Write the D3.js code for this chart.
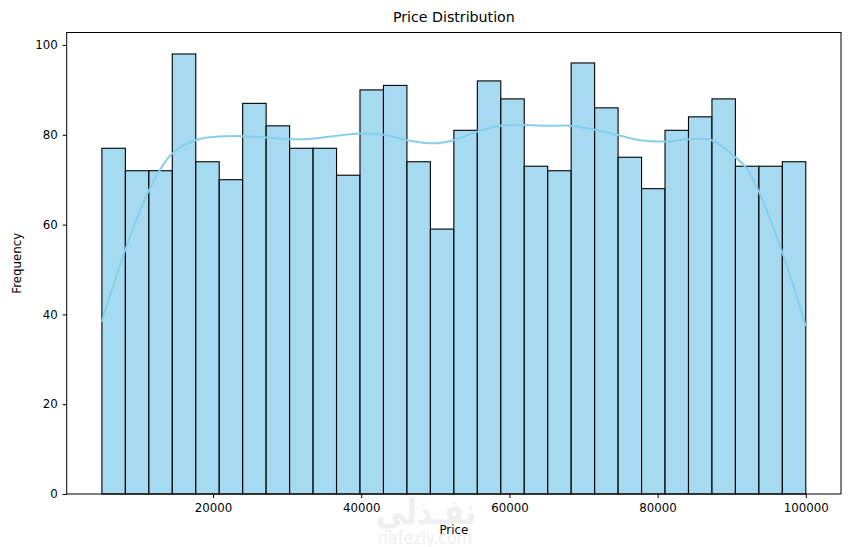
<!DOCTYPE html>
<html><head><meta charset="utf-8">
<script src="https://cdn.jsdelivr.net/npm/d3@7"></script>
<style>
body{margin:0;background:#fff;}
svg{display:block;font-family:"DejaVu Sans",sans-serif;}
</style></head>
<body><svg id="c" width="850" height="547"></svg>
<script>
// Data
const binStart = 5000;
const binEnd = 100000;
const counts = [77,72,72,98,74,70,87,82,77,77,71,90,91,74,59,81,92,88,73,72,96,86,75,68,81,84,88,73,73,74];
const kdePrice = [5000,8140,11375,14530,17670,20810,23960,27100,30700,33610,39900,43050,46200,49790,52480,55630,58770,61910,65070,68210,71350,74500,77640,81010,84150,87300,90440,92020,93580,96870,100000];
const kdeValue = [38.4,54.3,67.7,75.9,78.8,79.6,79.7,79.4,79.0,79.2,80.3,80.0,78.8,78.1,78.8,80.7,82.0,82.2,82.0,82.0,81.2,80.0,78.8,78.5,79.0,78.8,75.1,72.5,67.7,53.6,37.4];
const xTicks = [20000,40000,60000,80000,100000];
const yTicks = [0,20,40,60,80,100];

const svg = d3.select("#c");
const L = 66.7, R = 841, T = 32.5, B = 494;
const pad = (binEnd - binStart) * 0.05;
const x = d3.scaleLinear().domain([binStart - pad, binEnd + pad]).range([L, R]);
const y = d3.scaleLinear().domain([0, 100]).range([B, B - 449]);
const bw = (binEnd - binStart) / counts.length;
const bins = counts.map((c, i) => ({x0: binStart + i * bw, x1: binStart + (i + 1) * bw, c}));

// watermark
svg.append("text").attr("x", 426).attr("y", 524).attr("text-anchor", "middle")
  .attr("font-family", "Noto Sans, DejaVu Sans").attr("font-weight", "bold")
  .attr("font-size", 36).attr("fill", "#efefef")
  .attr("textLength", 100).attr("lengthAdjust", "spacingAndGlyphs").text("نفـذلي");
svg.append("text").attr("x", 425).attr("y", 544).attr("text-anchor", "middle")
  .attr("font-size", 17).attr("fill", "#efefef")
  .attr("textLength", 94).attr("lengthAdjust", "spacingAndGlyphs").text("nafezly.com");

// bars
svg.append("g").selectAll("rect").data(bins).join("rect")
  .attr("x", d => x(d.x0)).attr("width", d => x(d.x1) - x(d.x0))
  .attr("y", d => y(d.c)).attr("height", d => y(0) - y(d.c))
  .attr("fill", "#87ceeb").attr("fill-opacity", 0.75)
  .attr("stroke", "#000").attr("stroke-width", 1.1);

// KDE
const pts = kdePrice.map((p, i) => [p, kdeValue[i]]);
svg.append("path").datum(pts)
  .attr("d", d3.line().x(d => x(d[0])).y(d => y(d[1])).curve(d3.curveCatmullRom))
  .attr("fill", "none").attr("stroke", "#87ceeb").attr("stroke-width", 2);

// frame
svg.append("rect").attr("x", L).attr("y", T).attr("width", R - L).attr("height", B - T)
  .attr("fill", "none").attr("stroke", "#000").attr("stroke-width", 1);

// axes
const xa = svg.append("g").attr("transform", `translate(0,${B})`)
  .call(d3.axisBottom(x).tickValues(xTicks).tickFormat(d3.format("d")).tickSizeOuter(0).tickSize(4).tickPadding(6));
const ya = svg.append("g").attr("transform", `translate(${L},0)`)
  .call(d3.axisLeft(y).tickValues(yTicks).tickFormat(d3.format("d")).tickSizeOuter(0).tickSize(4).tickPadding(5));
[xa, ya].forEach(a => {
  a.select(".domain").remove();
  a.selectAll("text").attr("font-size", 11.8).attr("font-family", "DejaVu Sans").attr("fill", "#000");
  a.selectAll("line").attr("stroke", "#000");
});

// labels
svg.append("text").attr("x", (L + R) / 2).attr("y", 22).attr("text-anchor", "middle")
  .attr("font-size", 14.2).text("Price Distribution");
svg.append("text").attr("x", (L + R) / 2).attr("y", 534).attr("text-anchor", "middle")
  .attr("font-size", 11.8).text("Price");
svg.append("text").attr("transform", `translate(21,${(T + B) / 2}) rotate(-90)`)
  .attr("text-anchor", "middle").attr("font-size", 11.8).text("Frequency");
</script></body></html>
